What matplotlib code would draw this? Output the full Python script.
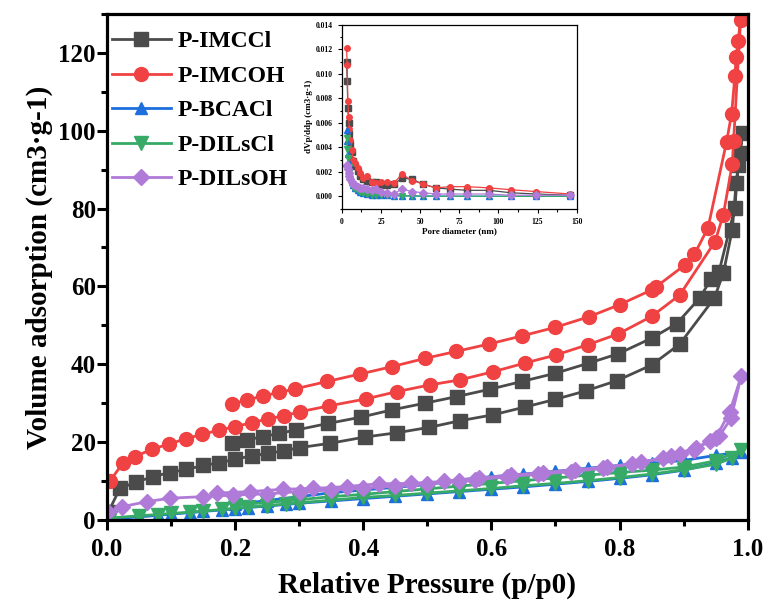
import numpy as np
import matplotlib
matplotlib.use("Agg")
import matplotlib.pyplot as plt
from matplotlib.ticker import MultipleLocator, FormatStrFormatter

plt.rcParams["font.family"] = ["Liberation Serif", "DejaVu Serif"]
plt.rcParams["font.weight"] = "bold"

# isotherms: adsorption branch then desorption branch
imccl_ads_p = [0.002, 0.02, 0.045, 0.071, 0.098, 0.124, 0.15, 0.175, 0.2, 0.226, 0.252, 0.277, 0.301, 0.348, 0.402,
               0.452, 0.503, 0.551, 0.602, 0.652, 0.70, 0.748, 0.796, 0.85, 0.894, 0.948, 0.962, 0.976, 0.982, 0.988, 0.992]
imccl_ads_v = [2.0, 8.1, 9.7, 11.1, 12.2, 13.0, 14.0, 14.7, 15.6, 16.5, 17.1, 17.8, 18.6, 19.7, 21.3,
               22.4, 23.8, 25.5, 27.0, 29.0, 31.0, 33.2, 35.8, 39.8, 45.2, 57.0, 63.4, 74.6, 86.6, 94.3, 99.4]
imccl_des_p = [0.985, 0.98, 0.955, 0.943, 0.925, 0.889, 0.85, 0.798, 0.752, 0.70, 0.648, 0.598, 0.546, 0.496,
               0.445, 0.396, 0.345, 0.295, 0.269, 0.244, 0.218, 0.195]
imccl_des_v = [91.3, 80.1, 63.6, 61.9, 57.0, 50.4, 46.7, 42.7, 40.3, 37.7, 35.6, 33.6, 31.7, 30.0,
               28.3, 26.4, 24.8, 23.1, 22.3, 21.4, 20.6, 19.7]

imcoh_ads_p = [0.005, 0.025, 0.044, 0.07, 0.097, 0.123, 0.149, 0.175, 0.2, 0.226, 0.252, 0.277, 0.301, 0.346, 0.404,
               0.453, 0.504, 0.551, 0.603, 0.652, 0.701, 0.75, 0.798, 0.85, 0.894, 0.949, 0.962, 0.976, 0.978, 0.989]
imcoh_ads_v = [10.1, 14.7, 16.3, 18.2, 19.5, 20.9, 22.0, 23.1, 24.0, 25.0, 26.0, 26.8, 27.8, 29.3, 31.1,
               33.0, 34.7, 36.0, 38.1, 40.3, 42.4, 45.0, 47.8, 52.3, 57.8, 71.5, 78.4, 91.5, 97.3, 128.5]
imcoh_des_p = [0.985, 0.982, 0.98, 0.975, 0.967, 0.938, 0.917, 0.902, 0.857, 0.85, 0.80, 0.752, 0.70, 0.648,
               0.596, 0.545, 0.496, 0.445, 0.395, 0.344, 0.294, 0.269, 0.244, 0.218, 0.195]
imcoh_des_v = [123.0, 118.9, 114.0, 104.4, 97.1, 75.0, 68.3, 65.5, 59.9, 59.1, 55.3, 52.2, 49.5, 47.3,
               45.2, 43.3, 41.5, 39.4, 37.5, 35.6, 33.7, 32.8, 31.9, 30.8, 29.8]

low_ads_p = [0.005, 0.05, 0.08, 0.1, 0.13, 0.15, 0.18, 0.2, 0.22, 0.25, 0.28, 0.3, 0.35, 0.4, 0.45, 0.5,
             0.55, 0.6, 0.65, 0.7, 0.75, 0.8, 0.85, 0.9, 0.95, 0.975, 0.99]
low_des_p = [0.95, 0.9, 0.85, 0.8, 0.75, 0.7, 0.65, 0.6, 0.55, 0.5, 0.45, 0.4, 0.35, 0.3, 0.25, 0.2]
bcacl_ads_v = [0.3, 0.8, 1.2, 1.5, 1.9, 2.2, 2.6, 2.9, 3.2, 3.6, 4.0, 4.3, 4.9, 5.5, 6.1, 6.7,
               7.3, 7.9, 8.5, 9.2, 9.9, 10.7, 11.6, 12.8, 14.6, 16.0, 17.5]
bcacl_des_v = [16.6, 15.3, 14.6, 14.0, 13.3, 12.5, 11.8, 11.1, 10.3, 9.1, 8.4, 7.7, 7.0, 6.0, 5.0, 4.0]
dilscl_ads_v = [0.5, 1.1, 1.4, 1.7, 2.0, 2.3, 2.7, 3.0, 3.3, 3.7, 4.1, 4.4, 5.1, 5.8, 6.3, 6.9,
                7.5, 8.1, 8.8, 9.4, 10.1, 10.9, 11.8, 12.9, 14.3, 15.9, 18.0]
dilscl_des_v = [15.2, 13.6, 12.8, 12.2, 11.5, 10.8, 10.1, 9.4, 8.7, 8.0, 7.3, 6.6, 6.0, 5.2, 4.5, 3.8]

dilsoh_ads_p = [0.002, 0.023, 0.062, 0.098, 0.15, 0.197, 0.249, 0.301, 0.35, 0.40, 0.45, 0.50, 0.55, 0.574,
                0.624, 0.673, 0.725, 0.774, 0.82, 0.868, 0.894, 0.917, 0.941, 0.956, 0.974, 0.99]
dilsoh_ads_v = [2.1, 3.4, 4.7, 5.6, 6.0, 6.4, 6.7, 7.3, 7.7, 8.2, 8.7, 9.3, 9.9, 10.3,
                11.1, 11.8, 12.4, 13.3, 14.5, 15.8, 16.9, 18.0, 20.4, 21.6, 26.1, 37.0]
dilsoh_des_p = [0.972, 0.95, 0.92, 0.88, 0.834, 0.78, 0.73, 0.68, 0.63, 0.58, 0.526, 0.474, 0.424, 0.374,
                0.322, 0.275, 0.223, 0.171]
dilsoh_des_v = [27.8, 21.0, 18.6, 16.4, 14.8, 13.6, 12.9, 12.2, 11.5, 10.8, 9.9, 9.4, 9.3, 8.6,
                8.1, 7.9, 7.3, 6.9]

# pore size distribution (inset)
pore_d = [3.0, 3.4, 3.8, 4.3, 4.8, 5.5, 6.3, 7.3, 8.5, 10, 11.7, 13.7, 16, 19, 22, 25, 28.5, 33,
          38.5, 45, 52, 60, 69, 80, 94, 108, 124, 146]
psd_imccl = [0.0110, 0.0094, 0.0072, 0.0060, 0.0051, 0.0043, 0.0036, 0.0029, 0.0025, 0.0021, 0.0017, 0.0014,
             0.0013, 0.0012, 0.0012, 0.0009, 0.0009, 0.0010, 0.0015, 0.0014, 0.0010, 0.0007, 0.0006, 0.0005,
             0.0005, 0.0003, 0.0002, 0.0001]
psd_imcoh = [0.0121, 0.0107, 0.0078, 0.0065, 0.0055, 0.0046, 0.0038, 0.0030, 0.0027, 0.0023, 0.0019, 0.0015,
             0.0017, 0.0012, 0.0011, 0.0012, 0.0012, 0.0011, 0.0018, 0.0013, 0.0010, 0.0007, 0.0008, 0.0008,
             0.0007, 0.00055, 0.0004, 0.0002]
psd_bcacl = [0.0054, 0.0045, 0.0035, 0.0027, 0.0021, 0.0016, 0.0012, 0.0009, 0.0007, 0.0005, 0.0004, 0.0003,
             0.0002, 0.00015, 0.0001, 0.0001, 0.00008, 0.00006, 0.00005, 0.00004, 0.00003, 0.00003, 0.00002,
             0.00002, 0.00002, 0.00001, 0.00001, 0.00001]
psd_dilscl = [0.0048, 0.0039, 0.0031, 0.0024, 0.0019, 0.0014, 0.0010, 0.0008, 0.0006, 0.0005, 0.0004, 0.0003,
              0.0002, 0.00015, 0.0001, 0.0001, 0.00008, 0.00006, 0.00005, 0.00004, 0.00003, 0.00003, 0.00002,
              0.00002, 0.00002, 0.00001, 0.00001, 0.00001]
psd_dilsoh = [0.0026, 0.0025, 0.0022, 0.0019, 0.0017, 0.0014, 0.0012, 0.0010, 0.0009, 0.0008, 0.0007, 0.0007,
              0.0006, 0.0005, 0.0006, 0.0004, 0.0003, 0.0002, 0.0006, 0.0004, 0.0003, 0.0002, 0.0002, 0.0002,
              0.0002, 0.0001, 0.0001, 0.0001]

labels = ["P-IMCCl", "P-IMCOH", "P-BCACl", "P-DILsCl", "P-DILsOH"]
colors = ["#4b4b4b", "#f04242", "#1c6fdc", "#37aa68", "#b07ad8"]
markers = ["s", "o", "^", "v", "D"]
msizes = [9.5, 10, 9, 10, 8.5]

series = [
    (imccl_ads_p + imccl_des_p, imccl_ads_v + imccl_des_v),
    (imcoh_ads_p + imcoh_des_p, imcoh_ads_v + imcoh_des_v),
    (low_ads_p + low_des_p, bcacl_ads_v + bcacl_des_v),
    (low_ads_p + low_des_p, dilscl_ads_v + dilscl_des_v),
    (dilsoh_ads_p + dilsoh_des_p, dilsoh_ads_v + dilsoh_des_v),
]
psd = [psd_imccl, psd_imcoh, psd_bcacl, psd_dilscl, psd_dilsoh]

fig = plt.figure(figsize=(7.7, 6.05), dpi=100)
ax = fig.add_axes([0.139, 0.1405, 0.832, 0.8365])

for (p, v), lab, c, m, ms in zip(series, labels, colors, markers, msizes):
    ax.plot(p, v, color=c, marker=m, markersize=ms, linewidth=2, label=lab)

ax.set_xlim(0, 1.0)
ax.set_ylim(0, 130)
ax.xaxis.set_major_locator(MultipleLocator(0.2))
ax.xaxis.set_minor_locator(MultipleLocator(0.1))
ax.yaxis.set_major_locator(MultipleLocator(20))
ax.yaxis.set_minor_locator(MultipleLocator(10))
ax.xaxis.set_major_formatter(FormatStrFormatter("%.1f"))
ax.tick_params(which="both", direction="out", width=2.2, labelsize=18)
ax.tick_params(which="major", length=7)
ax.tick_params(which="minor", length=4)
ax.tick_params(axis="x", which="major", pad=6)
ax.tick_params(axis="y", which="major", pad=1)
for s in ax.spines.values():
    s.set_linewidth(2.3)
ax.set_xlabel("Relative Pressure (p/p0)", fontsize=21, fontweight="bold", labelpad=8)
ax.set_ylabel("Volume adsorption (cm3·g-1)", fontsize=21, fontweight="bold", labelpad=4)

ax.legend(loc="upper left", bbox_to_anchor=(0.0, 0.976), frameon=False, fontsize=17,
          handlelength=2.5, borderaxespad=0.0, borderpad=0.2, labelspacing=0.55, handletextpad=0.3)

# inset
ins = fig.add_axes([0.444, 0.655, 0.305, 0.304])
for y, c, m in zip(psd, colors, markers):
    ins.plot(pore_d, y, color=c, marker=m, markersize=4, linewidth=0.9)
ins.set_xlim(0, 150)
ins.set_ylim(-0.001, 0.014)
ins.xaxis.set_major_locator(MultipleLocator(25))
ins.xaxis.set_minor_locator(MultipleLocator(12.5))
ins.yaxis.set_major_locator(MultipleLocator(0.002))
ins.yaxis.set_minor_locator(MultipleLocator(0.001))
ins.yaxis.set_major_formatter(FormatStrFormatter("%.3f"))
ins.tick_params(which="both", direction="out", width=0.8, labelsize=5.5)
ins.tick_params(which="major", length=3)
ins.tick_params(which="minor", length=1.8)
for s in ins.spines.values():
    s.set_linewidth(0.9)
ins.set_xlabel("Pore diameter (nm)", fontsize=6.5, fontweight="bold", labelpad=1)
ins.set_ylabel("dVp/ddp (cm3·g-1)", fontsize=6.5, fontweight="bold", labelpad=2)

fig.savefig("out.png", dpi=100)
